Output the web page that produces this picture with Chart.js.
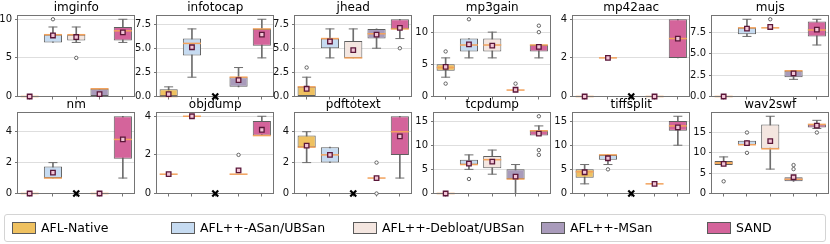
<!DOCTYPE html>
<html>
<head>
<meta charset="utf-8">
<script src="https://cdn.jsdelivr.net/npm/chart.js@4.4.1/dist/chart.umd.min.js"></script>
<style>
  body { margin: 0; background: #fff; width: 830px; height: 244px; overflow: hidden; position: relative; font-family: "DejaVu Sans", sans-serif; }
  canvas { position: absolute; }
  #legend { position: absolute; left: 4px; top: 214px; width: 822px; height: 28px; border: 1px solid #d4d4d4; border-radius: 3px; box-sizing: border-box; }
  .sw { position: absolute; top: 222px; width: 24px; height: 12px; border: 1px solid #5a5a5a; box-sizing: border-box; }
  .lab { position: absolute; top: 219px; font-size: 12.5px; line-height: 18px; color: #000; white-space: nowrap; }
</style>
</head>
<body>
<div id="legend"></div>
<script>
// programmes (one subplot each) and fuzzers (one box each)
const programs = ['imginfo', 'infotocap', 'jhead', 'mp3gain', 'mp42aac', 'mujs',
                  'nm', 'objdump', 'pdftotext', 'tcpdump', 'tiffsplit', 'wav2swf'];
const tools = ['AFL-Native', 'AFL++-ASan/UBSan', 'AFL++-Debloat/UBSan', 'AFL++-MSan', 'SAND'];
const toolColors = ['#efc160', '#c6dbf1', '#f4e6e0', '#a99bbb', '#d4649b'];

// box statistics, one row per programme, null = no data (drawn as x)
const whiskerLow = [
  [0, 7, 7, 0, 7], [0, 2, null, 1, 4], [0, 4, 4, 5, 6], [3, 6, 6, 1, 6], [0, 2, null, 0, 2], [0, 7, 8, 2, 6],
  [0, 1, null, 0, 1], [1, 4, null, 1, 3], [2, 2, null, 1, 1], [0, 5, 4, 0, 12], [2, 6, null, 2, 10], [7, 12, 6, 3, 16]
];
const q1 = [
  [0, 7, 7.25, 0, 7.25], [0, 4.25, null, 1, 5.25], [0, 5, 4, 6, 7], [4, 7, 7, 1, 7], [0, 2, null, 0, 2], [0, 7.25, 8, 2.25, 7],
  [0, 1, null, 0, 2.25], [1, 4, null, 1, 3], [3, 2, null, 1, 2.5], [0, 6, 5.25, 3, 12], [3.25, 7, null, 2, 13], [7, 12, 11, 3, 16.25]
];
const median = [
  [0, 8, 8, 1, 8.5], [0, 5.5, null, 2, 7], [1, 6, 4, 6.5, 7], [4.5, 8, 8, 1, 8], [0, 2, null, 0, 3], [0, 8, 8, 3, 7.75],
  [0, 1, null, 0, 3.5], [1, 4, null, 1, 3], [3, 2.5, null, 1, 4], [0, 6, 7, 3, 13], [4.5, 8, null, 2, 14], [7.5, 12, 11, 3.5, 17]
];
const q3 = [
  [0, 8, 8, 1, 9], [0.75, 6, null, 2, 7], [1, 6, 5.75, 7, 8], [5, 9, 9, 1, 8], [0, 2, null, 0, 4], [0, 8, 8, 3, 8.75],
  [0, 1.75, null, 0, 5], [1, 4, null, 1, 3.75], [3.75, 3, null, 1, 5], [0, 7, 7.75, 5, 13], [5, 8, null, 2, 15], [8, 13, 17, 4, 17]
];
const whiskerHigh = [
  [0, 9, 9, 1, 10], [1, 7, null, 3, 8], [2, 7, 7, 7, 8], [6, 9, 10, 1, 8], [0, 2, null, 0, 4], [0, 9, 8, 3, 9],
  [0, 2, null, 0, 5], [1, 4, null, 1, 4], [4, 3, null, 1, 5], [0, 8, 9, 6, 14], [6, 8, null, 2, 16], [9, 13, 19, 4, 18]
];
const means = [
  [0, 7.9, 7.7, 0.3, 8.3], [0.25, 5.1, null, 1.7, 6.4], [0.8, 5.7, 4.8, 6.4, 7.1], [4.6, 8.1, 7.9, 1.05, 7.7], [0, 2, null, 0, 3], [0, 7.9, 8.1, 2.7, 7.8],
  [0, 1.35, null, 0, 3.5], [1, 4, null, 1.2, 3.3], [3.1, 2.5, null, 1, 3.7], [0, 6.2, 6.6, 3.5, 12.4], [4.4, 7.3, null, 2, 13.7], [7.3, 12.4, 12.9, 4, 16.7]
];
const outliers = [
  [[], [10], [5], [], []], [[], [], [], [], []], [[3], [], [], [], [5]], [[2, 7], [12], [], [2], [10, 11]],
  [[], [], [], [], []], [[], [], [9], [], []], [[], [], [], [], []], [[], [], [], [2], []],
  [[], [], [], [2, 0], []], [[], [3], [], [], [16, 9, 8]], [[], [5], [], [], []], [[3], [10, 15], [], [6, 7], [15]]
];
const tickStep = [5, 2.5, 2.5, 5, 2, 2.5, 2, 2, 2, 5, 5, 5];

// subplot grid
const PLOT_LEFT = 18, COL_STEP = 138.7, PLOT_W = 116, PLOT_H = 81;
const ROW_TOP = [15, 112];

// axes frame, drawn right after the median lines so it sits on top of boxes
// but below the outliers / means / x markers
const frame = {
  id: 'frame',
  afterDatasetDraw(chart, args) {
    if (args.index !== 3) return;
    const a = chart.chartArea, ctx = chart.ctx;
    ctx.save();
    ctx.strokeStyle = '#747474';
    ctx.lineWidth = 1;
    ctx.strokeRect(Math.round(a.left) - 0.5, Math.round(a.top) + 0.5, Math.round(a.right - a.left), Math.round(a.bottom - a.top));
    ctx.restore();
  }
};

function makeConfig(p) {
  const boxes = [], whisk = [], caps = [], fliers = [], missing = [];
  tools.forEach((t, i) => {
    const lo = whiskerLow[p][i], a = q1[p][i], b = q3[p][i], hi = whiskerHigh[p][i];
    boxes.push(a === null || a === b ? null : [a, b]);
    whisk.push(lo === null || lo === hi ? null : [lo, hi]);
    if (lo !== null && lo < a) caps.push({ x: t, y: lo });
    if (hi !== null && hi > b) caps.push({ x: t, y: hi });
    outliers[p][i].forEach(v => fliers.push({ x: t, y: v }));
    missing.push(median[p][i] === null ? 0 : null);
  });
  let top = 0;
  [whiskerHigh[p], means[p]].forEach(r => r.forEach(v => { if (v !== null) top = Math.max(top, v); }));
  outliers[p].forEach(r => r.forEach(v => { top = Math.max(top, v); }));
  const step = tickStep[p];

  return {
    data: {
      labels: tools,
      datasets: [
        { type: 'bar', data: whisk, backgroundColor: '#6e6e6e', barThickness: 1, grouped: false, order: 6 },
        { type: 'bar', data: boxes, backgroundColor: toolColors, borderColor: '#5e5e5e', borderWidth: 1,
          borderSkipped: false, barPercentage: 0.78, categoryPercentage: 1, grouped: false, order: 5 },
        { type: 'line', data: caps, showLine: false, pointStyle: 'line', pointRadius: 4.5,
          pointBorderColor: '#6e6e6e', pointBorderWidth: 1, order: 4, clip: false },
        { type: 'line', data: median[p], showLine: false, pointStyle: 'line', pointRadius: 9,
          pointBorderColor: '#f2a25c', pointBorderWidth: 1.5, order: 3, clip: false },
        { type: 'line', data: fliers, showLine: false, pointStyle: 'circle', pointRadius: 1.7,
          pointBackgroundColor: '#fff', pointBorderColor: '#555', pointBorderWidth: 0.9, order: 2, clip: false },
        { type: 'line', data: means[p], showLine: false, pointStyle: 'rect', pointRadius: 3.2,
          pointBackgroundColor: '#f2c4d6', pointBorderColor: '#5a1638', pointBorderWidth: 1.3, order: 1, clip: false },
        { type: 'line', data: missing, showLine: false, pointStyle: 'crossRot', pointRadius: 4.2,
          pointBorderColor: '#000', pointBorderWidth: 2.2, order: 0, clip: false }
      ]
    },
    options: {
      responsive: false,
      animation: false,
      events: [],
      layout: { padding: { right: 2 } },
      plugins: {
        legend: { display: false },
        tooltip: { enabled: false },
        title: {
          display: true, text: programs[p], fullSize: false, color: '#000',
          font: { family: 'DejaVu Sans', size: 12, weight: 'normal', lineHeight: 1.2 },
          padding: { top: 0, bottom: 0 }
        }
      },
      scales: {
        x: {
          offset: true,
          border: { display: false },
          grid: { display: true, drawOnChartArea: false, offset: false, tickLength: 3, color: '#747474' },
          ticks: { display: false },
          afterFit(s) { s.height = 7; }
        },
        y: {
          min: 0,
          max: top * 1.05,
          border: { display: false },
          grid: { color: '#dedede', tickColor: '#747474', tickLength: 3 },
          ticks: {
            stepSize: step, includeBounds: false, padding: 3, color: '#111',
            font: { family: 'DejaVu Sans', size: 10 },
            callback: v => (step % 1 ? v.toFixed(1) : String(v))
          },
          afterFit(s) { s.width = 30; }
        }
      }
    },
    plugins: [frame]
  };
}

programs.forEach((name, p) => {
  const col = p % 6, row = Math.floor(p / 6);
  const left = Math.round(PLOT_LEFT + col * COL_STEP), top = ROW_TOP[row];
  const cv = document.createElement('canvas');
  cv.width = 200; cv.height = 140;
  document.body.appendChild(cv);
  let chart = new Chart(cv, makeConfig(p));
  const a = chart.chartArea;
  const offL = a.left, offT = a.top, offR = 200 - a.right, offB = 140 - a.bottom;
  chart.destroy();
  cv.width = Math.round(offL + PLOT_W + offR);
  cv.height = Math.round(offT + PLOT_H + offB);
  cv.style.left = Math.round(left - offL) + 'px';
  cv.style.top = Math.round(top - offT) + 'px';
  new Chart(cv, makeConfig(p));
});

// legend
const swX = [12, 171, 353, 541, 707];
tools.forEach((t, i) => {
  const sw = document.createElement('div');
  sw.className = 'sw';
  sw.style.left = swX[i] + 'px';
  sw.style.background = toolColors[i];
  document.body.appendChild(sw);
  const lb = document.createElement('div');
  lb.className = 'lab';
  lb.style.left = (swX[i] + 29) + 'px';
  lb.textContent = t;
  document.body.appendChild(lb);
});
</script>
</body>
</html>
